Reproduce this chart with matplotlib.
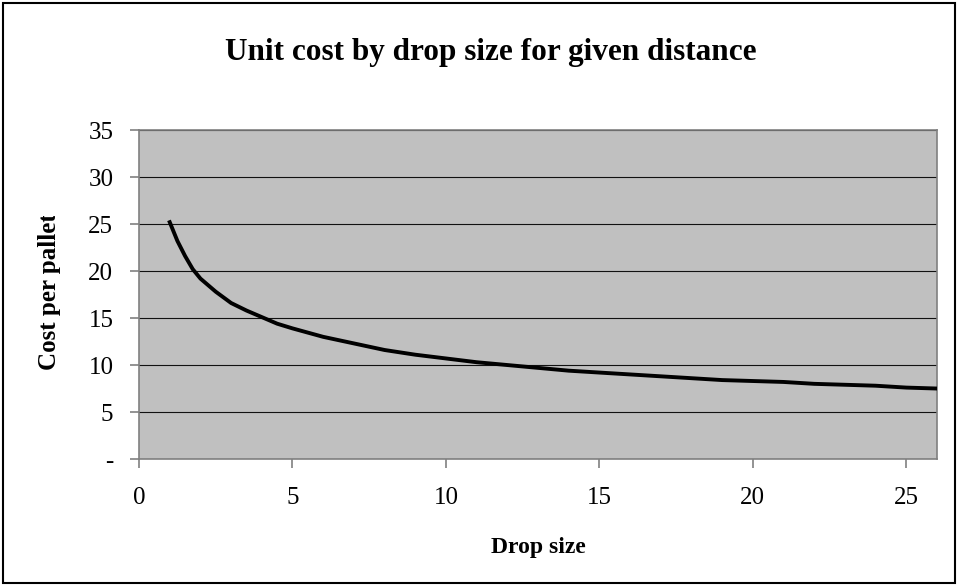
import matplotlib.pyplot as plt
from matplotlib.patches import Rectangle
from matplotlib.ticker import FuncFormatter
from matplotlib.transforms import Bbox

# values
drop_size = [1, 1.25, 1.5, 1.75, 2, 2.5, 3, 3.5, 4, 4.5, 5, 6, 7, 8, 9, 10,
             11, 12, 13, 14, 15, 16, 17, 18, 19, 20, 21, 22, 23, 24, 25, 26]
cost_per_pallet = [25.2, 23.2, 21.6, 20.2, 19.2, 17.8, 16.6, 15.8, 15.1, 14.4,
                   13.9, 13.0, 12.3, 11.6, 11.1, 10.7, 10.3, 10.0, 9.7, 9.4,
                   9.2, 9.0, 8.8, 8.6, 8.4, 8.3, 8.2, 8.0, 7.9, 7.8, 7.6, 7.5]
x_ticks = [0, 5, 10, 15, 20, 25]
y_ticks = [0, 5, 10, 15, 20, 25, 30, 35]

plt.rcParams['font.family'] = ['Liberation Serif', 'DejaVu Serif']

W, H = 959, 586
fig = plt.figure(figsize=(W / 100, H / 100), dpi=100)
fig.patches.append(Rectangle((0.003, 0.005), 0.993, 0.99, transform=fig.transFigure,
                             fill=False, edgecolor='black', linewidth=1.5))

ax = fig.add_axes([0.145, 0.2167, 0.832, 0.5613])
ax.set_facecolor('#C0C0C0')

ax.plot(drop_size, cost_per_pallet, color='black', linewidth=2.8, zorder=3)

ax.set_xlim(0, 26)
ax.set_ylim(0, 35)
ax.set_xticks(x_ticks)
ax.set_yticks(y_ticks)
ax.yaxis.set_major_formatter(FuncFormatter(lambda v, p: '-' if v == 0 else f"{v:.0f}"))

ax.grid(axis='y', color='#111111', linewidth=0.8)
ax.set_axisbelow(True)
for s in ax.spines.values():
    s.set_color('#808080')
    s.set_linewidth(1.2)

ax.tick_params(axis='x', direction='out', length=6.5, width=1.2, color='#808080',
               pad=14, labelsize=18)
ax.tick_params(axis='y', direction='out', length=6.5, width=1.2, color='#808080',
               pad=12, labelsize=18)

fig.text(0.512, 0.911, "Unit cost by drop size for given distance", ha='center',
         va='center', fontsize=22.5, fontweight='bold')
fig.text(0.561, 0.065, "Drop size", ha='center', va='center', fontsize=17,
         fontweight='bold')
ylab = fig.text(0.052, 1 - 370 / H, "Cost per pallet", ha='center', va='bottom',
                fontsize=18, fontweight='bold', rotation=90)
# the label is cut off at the top, as in the original
ylab.set_clip_box(Bbox([[0, 0], [W, H - 216]]))
ylab.set_clip_on(True)

fig.savefig("out.png", dpi=100)
